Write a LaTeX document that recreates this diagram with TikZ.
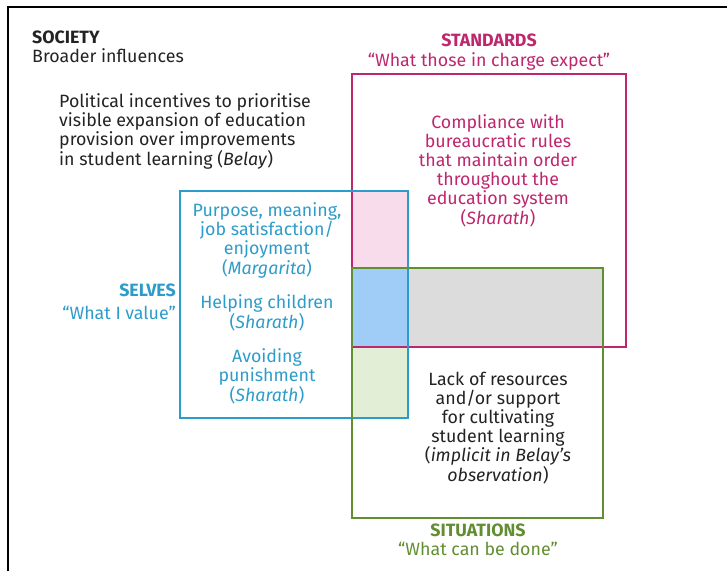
\documentclass[tikz,border=0pt]{standalone}
\usepackage{fontspec}
\setmainfont{Fira Sans}
\usetikzlibrary{positioning}

\definecolor{stdcol}{RGB}{190,38,110}
\definecolor{selcol}{RGB}{46,156,202}
\definecolor{sitcol}{RGB}{98,142,50}
\definecolor{txtcol}{RGB}{35,35,35}
\definecolor{pinkfill}{RGB}{248,220,236}
\definecolor{bluefill}{RGB}{160,204,248}
\definecolor{greyfill}{RGB}{220,220,220}
\definecolor{greenfill}{RGB}{226,239,214}

\begin{document}
\begin{tikzpicture}[x=1pt,y=-1pt,every node/.style={inner sep=0pt,align=center,font=\fontsize{17.8}{19.2}\selectfont},boxline/.style={line width=2pt},label/.style={anchor=base}]
  \useasboundingbox (0,0) rectangle (727,571);
  % overlaps
  \fill[pinkfill] (352,191) rectangle (408,268);
  \fill[bluefill] (352,268) rectangle (408,347);
  \fill[greyfill] (408,268) rectangle (603,347);
  \fill[greenfill] (352,347) rectangle (408,418);
  % the three boxes
  \draw[boxline,stdcol] (352,74) rectangle (626,347);
  \draw[boxline,selcol] (180,191) rectangle (408,418);
  \draw[boxline,sitcol] (352,268) rectangle (603,518);
  % frame
  \draw[line width=1.6pt] (8,571) -- (8,7) -- (727,7);

  % multi-line texts sit on the baseline of their last line
  \node[label,anchor=base west,txtcol] (soc) at (32,43) {\bfseries SOCIETY};
  \node[label,anchor=base west,txtcol] (socq) at (32,62) {Broader influences};
  \node[label,anchor=base west,align=left,txtcol] (pol) at (59,165) {Political incentives to prioritise\\visible expansion of education\\provision over improvements\\in student learning (\textit{Belay})};

  \node[label,stdcol] (std) at (489,46) {\bfseries STANDARDS};
  \node[label,stdcol] (stdq) at (489,66) {“What those in charge expect”};
  \node[label,stdcol] (comp) at (498,224) {Compliance with\\bureaucratic rules\\that maintain order\\throughout the\\education system\\(\textit{Sharath})};

  \node[label,anchor=base east,selcol] (sel) at (176,296) {\bfseries SELVES};
  \node[label,anchor=base east,selcol] (selq) at (176,319) {“What I value”};
  \node[label,selcol] (purp) at (267,274) {Purpose, meaning,\\job satisfaction/\\enjoyment\\(\textit{Margarita})};
  \node[label,selcol] (help) at (267,328) {Helping children\\(\textit{Sharath})};
  \node[label,selcol] (avoid) at (267,401) {Avoiding\\punishment\\(\textit{Sharath})};

  \node[label,txtcol] (lack) at (498,481) {Lack of resources\\and/or support\\for cultivating\\student learning\\(\textit{implicit in Belay's}\\\textit{observation})};
  \node[label,sitcol] (sit) at (478,536) {\bfseries SITUATIONS};
  \node[label,sitcol] (sitq) at (478,555) {“What can be done”};
\end{tikzpicture}
\end{document}
